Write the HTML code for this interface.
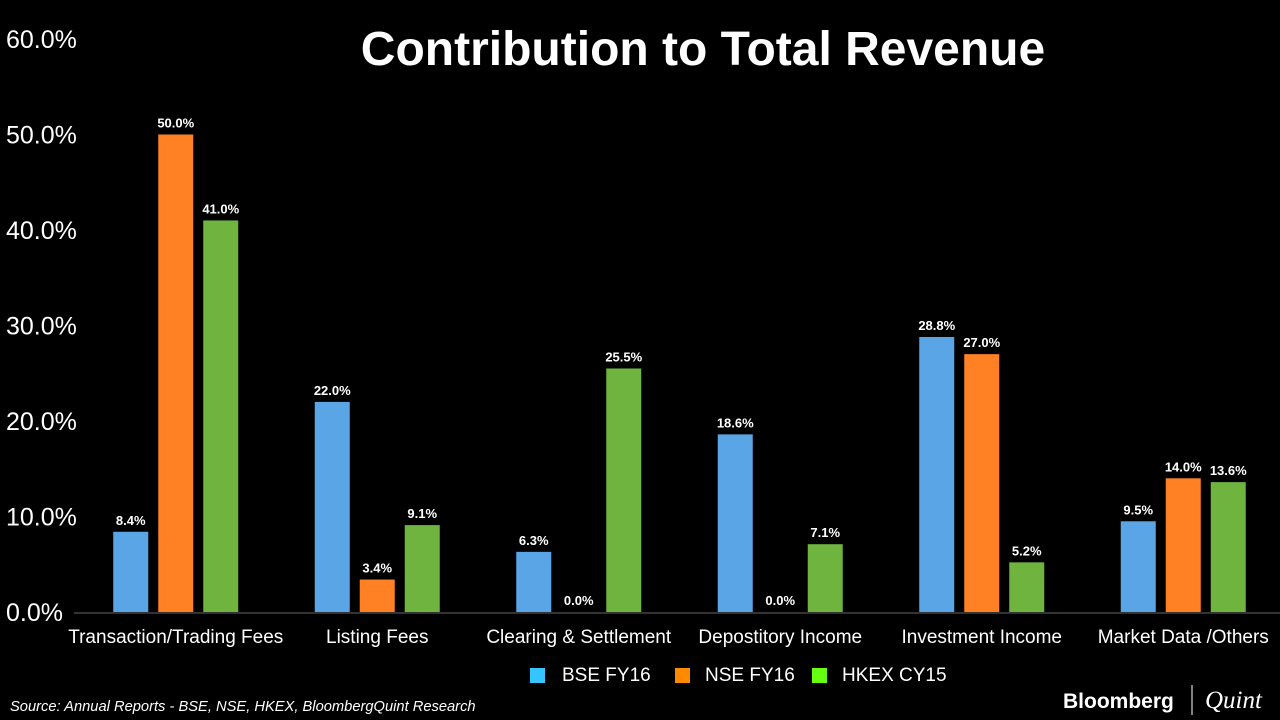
<!DOCTYPE html>
<html><head><meta charset="utf-8"><style>
html,body{margin:0;padding:0;background:#000;}
svg{display:block;font-family:"Liberation Sans",sans-serif;}
</style></head><body>
<svg id="chart" width="1280" height="720" viewBox="0 0 1280 720">
<rect width="1280" height="720" fill="#000"/>
<text x="703" y="65" text-anchor="middle" fill="#fff" font-size="48" font-weight="bold">Contribution to Total Revenue</text>
<g id="yaxis"></g>
<g id="bars"></g>
<g id="xlabels"></g>
<line x1="74" y1="613" x2="1280" y2="613" stroke="#666" stroke-width="1"/>
<g>
<g><rect x="530" y="668" width="15" height="15" fill="#35c6ff"/><text x="562" y="681" fill="#fff" font-size="19">BSE FY16</text></g>
<g><rect x="675" y="668" width="15" height="15" fill="#ff8a00"/><text x="705" y="681" fill="#fff" font-size="19">NSE FY16</text></g>
<g><rect x="812" y="668" width="15" height="15" fill="#66ff10"/><text x="842" y="681" fill="#fff" font-size="19">HKEX CY15</text></g>
</g>
<text x="10" y="711" fill="#fff" font-size="14.7" font-style="italic">Source: Annual Reports - BSE, NSE, HKEX, BloombergQuint Research</text>
<g>
<text x="1063" y="708" fill="#fff" font-size="21" font-weight="bold">Bloomberg</text>
<line x1="1192" y1="685" x2="1192" y2="715" stroke="#fff" stroke-width="1"/>
<text x="1205" y="708" fill="#fff" font-size="25" font-style="italic" font-family="Liberation Serif,serif">Quint</text>
</g>
</svg>
<script>
const categories = ["Transaction/Trading Fees","Listing Fees","Clearing & Settlement","Depostitory Income","Investment Income","Market Data /Others"];
const bseValues = [8.4,22.0,6.3,18.6,28.8,9.5];
const nseValues = [50.0,3.4,0.0,0.0,27.0,14.0];
const hkexValues = [41.0,9.1,25.5,7.1,5.2,13.6];
const yTicks = [0,10,20,30,40,50,60];
const seriesNames = ["bse","nse","hkex"];
const seriesColors = ["#5aa5e6","#ff8124","#6fb43f"];

const NS="http://www.w3.org/2000/svg";
const y0=612, pxPer=9.55, plotLeft=75, groupW=201.5, barW=35, barStep=45;
const yScale=v=>y0-v*pxPer;
const xGroup=i=>plotLeft+groupW*i+groupW/2;
function mk(tag,attrs,parent){const e=document.createElementNS(NS,tag);for(const k in attrs)e.setAttribute(k,attrs[k]);parent.appendChild(e);return e;}
const yaxis=document.getElementById('yaxis');
yTicks.forEach(t=>{
  const tx=mk('text',{x:6,y:yScale(t)+9,fill:'#fff','font-size':25},yaxis);
  tx.textContent=t.toFixed(1)+'%';
  
  
});
const bars=document.getElementById('bars');
const series=[bseValues,nseValues,hkexValues];
categories.forEach((c,i)=>{
  series.forEach((vals,s)=>{
    const v=vals[i];
    const x=xGroup(i)-barStep-barW/2+barStep*s;
    const r=mk('rect',{x:x,y:yScale(v),width:barW,height:v*pxPer,fill:seriesColors[s]},bars);
    
    
    const lb=mk('text',{x:x+barW/2,y:yScale(v)-7,fill:'#fff','font-size':13,'font-weight':'bold','text-anchor':'middle'},bars);
    lb.textContent=v.toFixed(1)+'%';
    
    
  });
  const xl=mk('text',{x:xGroup(i),y:643,fill:'#fff','font-size':19,'text-anchor':'middle'},document.getElementById('xlabels'));
  xl.textContent=c;
  
  
});
</script>
</body></html>
